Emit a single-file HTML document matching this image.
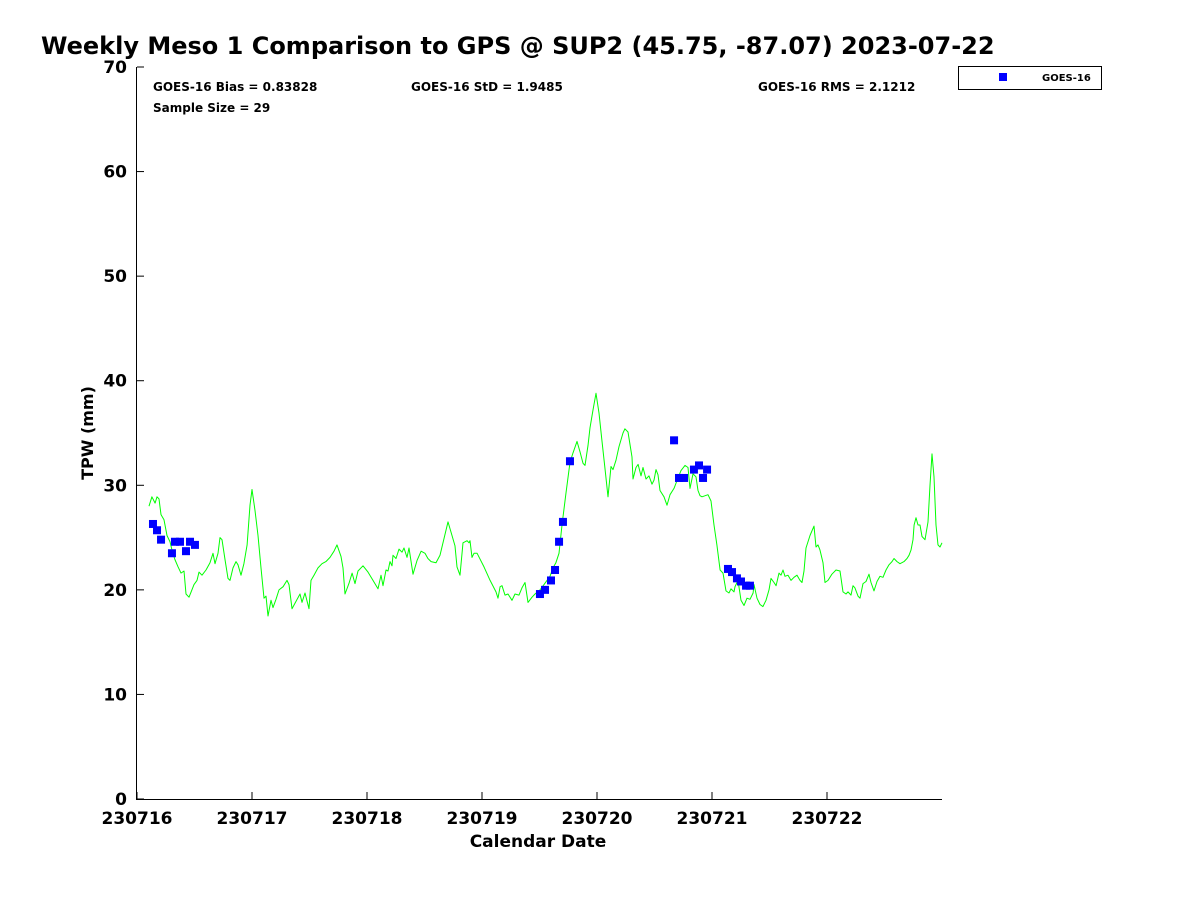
<!DOCTYPE html>
<html><head><meta charset="utf-8"><style>
html,body{margin:0;padding:0;background:#fff;}
svg{display:block;font-family:"DejaVu Sans","Liberation Sans",sans-serif;}
</style></head><body>
<svg id="chart" width="1200" height="900" viewBox="0 0 1200 900" xmlns="http://www.w3.org/2000/svg">
<rect width="1200" height="900" fill="#fff"/>
<text x="41" y="54" font-size="24" font-weight="bold" fill="#000">Weekly Meso 1 Comparison to GPS @ SUP2 (45.75, -87.07) 2023-07-22</text>
<g id="axes"></g>
<g id="series"></g>
<text x="153" y="91" font-size="12" font-weight="bold">GOES-16 Bias = 0.83828</text>
<text x="411" y="91" font-size="12" font-weight="bold">GOES-16 StD = 1.9485</text>
<text x="758" y="91" font-size="12" font-weight="bold">GOES-16 RMS = 2.1212</text>
<text x="153" y="112" font-size="12" font-weight="bold">Sample Size = 29</text>
<g>
<rect x="958.5" y="66.5" width="143" height="23" fill="#fff" stroke="#000" stroke-width="1"/>
<rect x="999" y="73" width="8" height="8" fill="#0000ff"/>
<text x="1042" y="81" font-size="10" font-weight="bold">GOES-16</text>
</g>
<text transform="translate(93,433) rotate(-90)" text-anchor="middle" font-size="16" font-weight="bold">TPW (mm)</text>
<text x="538" y="847" text-anchor="middle" font-size="17" font-weight="bold">Calendar Date</text>
</svg>
<script>
const xTickLabels = ["230716","230717","230718","230719","230720","230721","230722"];
const yTickLabels = ["0","10","20","30","40","50","60","70"];
const gpsDays = [.104,.130,.157,.174,.191,.209,.235,.261,.287,.304,.330,.357,.383,.409,.426,.452,.470,.496,.522,.539,.565,.600,.635,.661,.678,.704,.722,.739,.765,.791,.809,.835,.861,.878,.904,.930,.957,.983,1.000,1.026,1.052,1.078,1.104,1.122,1.139,1.165,1.183,1.209,1.235,1.270,1.304,1.322,1.348,1.383,1.417,1.435,1.461,1.496,1.513,1.539,1.574,1.609,1.643,1.678,1.713,1.739,1.774,1.791,1.809,1.843,1.870,1.896,1.922,1.965,2.009,2.052,2.096,2.122,2.139,2.165,2.183,2.200,2.217,2.226,2.252,2.278,2.304,2.322,2.348,2.365,2.400,2.435,2.470,2.504,2.530,2.557,2.600,2.635,2.661,2.704,2.739,2.765,2.783,2.809,2.835,2.870,2.887,2.896,2.913,2.930,2.957,3.017,3.070,3.122,3.139,3.157,3.174,3.200,3.226,3.261,3.287,3.322,3.348,3.374,3.400,3.435,3.461,3.504,3.539,3.565,3.591,3.617,3.643,3.670,3.696,3.730,3.765,3.791,3.826,3.852,3.878,3.896,3.922,3.939,3.965,3.991,4.017,4.043,4.070,4.096,4.122,4.139,4.165,4.191,4.226,4.243,4.270,4.287,4.304,4.313,4.339,4.357,4.383,4.400,4.426,4.452,4.478,4.496,4.513,4.530,4.548,4.583,4.609,4.635,4.670,4.704,4.730,4.765,4.791,4.809,4.835,4.861,4.878,4.896,4.913,4.965,4.991,5.017,5.043,5.070,5.096,5.122,5.148,5.165,5.191,5.200,5.226,5.252,5.278,5.304,5.330,5.357,5.365,5.391,5.417,5.443,5.470,5.496,5.513,5.539,5.557,5.583,5.600,5.617,5.635,5.661,5.687,5.713,5.739,5.765,5.783,5.800,5.817,5.852,5.887,5.904,5.922,5.939,5.965,5.983,6.009,6.043,6.078,6.113,6.139,6.165,6.183,6.209,6.226,6.243,6.270,6.287,6.313,6.339,6.365,6.383,6.409,6.435,6.461,6.487,6.513,6.539,6.565,6.583,6.609,6.635,6.670,6.696,6.713,6.730,6.748,6.757,6.774,6.791,6.809,6.826,6.852,6.878,6.896,6.913,6.930,6.948,6.965,6.983,7.000];
const gpsTpw = [28.0,28.9,28.3,28.9,28.7,27.2,26.7,25.2,24.6,23.8,22.9,22.2,21.6,21.8,19.6,19.3,19.8,20.5,20.9,21.7,21.4,21.9,22.6,23.5,22.5,23.5,25.0,24.8,22.9,21.1,20.9,22.1,22.7,22.4,21.4,22.5,24.3,28.1,29.6,27.6,25.2,22.1,19.2,19.4,17.5,19.0,18.3,19.1,20.0,20.3,20.9,20.5,18.2,18.9,19.6,18.8,19.7,18.2,20.9,21.4,22.1,22.5,22.7,23.1,23.7,24.3,23.2,22.1,19.6,20.6,21.6,20.6,21.8,22.3,21.7,20.9,20.1,21.4,20.4,21.9,21.8,22.7,22.3,23.3,23.0,23.9,23.6,24.0,23.1,24.0,21.5,22.8,23.7,23.5,23.0,22.7,22.6,23.3,24.5,26.5,25.2,24.2,22.2,21.4,24.5,24.7,24.5,24.7,23.1,23.5,23.5,22.2,20.9,19.8,19.2,20.3,20.4,19.5,19.6,19.0,19.6,19.5,20.2,20.7,18.8,19.3,19.6,20.0,20.5,20.9,21.3,22.1,22.6,23.5,26.2,29.2,32.2,33.1,34.2,33.2,32.1,31.9,33.8,35.5,37.2,38.8,36.9,34.3,31.5,28.9,31.8,31.5,32.4,33.7,35.0,35.4,35.1,33.9,32.7,30.6,31.7,32.0,30.9,31.7,30.6,30.9,30.1,30.5,31.5,31.0,29.5,28.9,28.1,29.1,29.7,30.7,31.4,31.9,31.7,29.7,31.1,30.8,29.5,29.0,28.9,29.1,28.5,26.2,24.3,21.9,21.6,19.9,19.7,20.1,19.8,20.3,20.9,19.0,18.5,19.2,19.1,19.7,20.5,19.2,18.6,18.4,19.0,20.0,21.1,20.7,20.4,21.6,21.4,21.9,21.3,21.4,20.9,21.2,21.4,20.9,20.7,21.8,24.0,25.2,26.1,24.1,24.3,23.8,22.6,20.7,20.9,21.5,21.9,21.8,19.8,19.6,19.8,19.5,20.4,20.2,19.4,19.2,20.6,20.8,21.5,20.7,19.9,20.8,21.3,21.2,21.9,22.4,22.7,23.0,22.7,22.5,22.7,23.0,23.3,23.8,24.8,26.2,26.9,26.2,26.2,25.1,24.8,26.5,30.0,33.0,30.8,26.2,24.3,24.1,24.5];
const goesDays = [.139,.174,.209,.304,.330,.374,.426,.461,.504,3.504,3.548,3.600,3.635,3.670,3.704,3.765,4.670,4.713,4.757,4.843,4.887,4.922,4.957,5.139,5.174,5.217,5.252,5.296,5.330];
const goesTpw = [26.3,25.7,24.8,23.5,24.6,24.6,23.7,24.6,24.3,19.6,20.0,20.9,21.9,24.6,26.5,32.3,34.3,30.7,30.7,31.5,31.9,30.7,31.5,22.0,21.7,21.1,20.8,20.4,20.4];

const NS = "http://www.w3.org/2000/svg";
const L = 137, R = 942, T = 67, B = 799;
const xMax = 7, yMax = 70;
function xs(d){ return L + d / xMax * (R - L); }
function ys(v){ return B - v / yMax * (B - T); }
function mk(tag, attrs, parent){
  const e = document.createElementNS(NS, tag);
  for (const k in attrs) e.setAttribute(k, attrs[k]);
  parent.appendChild(e);
  return e;
}
const axes = document.getElementById('axes');
const series = document.getElementById('series');

const yAxis = mk('line', {x1:L-0.5, y1:T, x2:L-0.5, y2:B, stroke:'#000', 'stroke-width':1}, axes);


const xAxis = mk('line', {x1:L-1, y1:B+0.5, x2:R, y2:B+0.5, stroke:'#000', 'stroke-width':1}, axes);



yTickLabels.forEach((lab, i) => {
  const y = ys(i * 10);
  const t = mk('line', {x1:L, y1:y, x2:L+7, y2:y, stroke:'#000', 'stroke-width':1}, axes);
  
  
  const tx = mk('text', {x:L-10, y:y+6, 'text-anchor':'end', 'font-size':17, 'font-weight':'bold'}, axes);
  tx.textContent = lab;
  
  
});
xTickLabels.forEach((lab, i) => {
  const x = xs(i);
  const t = mk('line', {x1:x, y1:B, x2:x, y2:B-7, stroke:'#000', 'stroke-width':1}, axes);
  
  
  const tx = mk('text', {x:x, y:B+25, 'text-anchor':'middle', 'font-size':17, 'font-weight':'bold'}, axes);
  tx.textContent = lab;
  
  
});

const pts = gpsDays.map((d, i) => xs(d).toFixed(1) + ',' + ys(gpsTpw[i]).toFixed(1)).join(' ');
const line = mk('polyline', {points:pts, fill:'none', stroke:'#00ff00', 'stroke-width':1, 'stroke-linejoin':'round'}, series);



goesDays.forEach((d, i) => {
  const s = mk('rect', {x:xs(d)-4, y:ys(goesTpw[i])-4, width:8, height:8, fill:'#0000ff'}, series);
  
  
});
</script>
</body></html>
